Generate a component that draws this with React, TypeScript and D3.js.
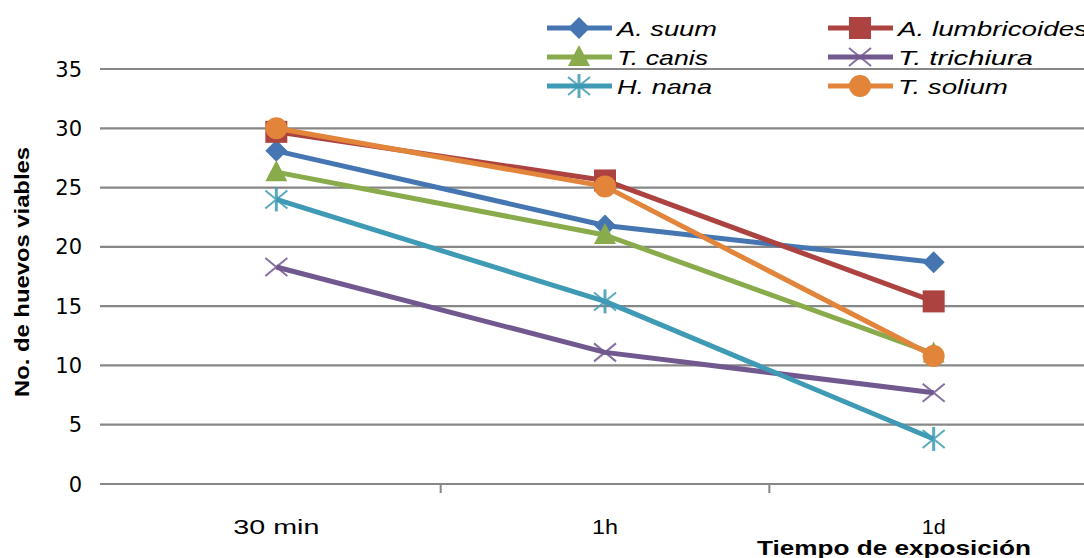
import React from "react";
import * as d3 from "d3";

const categories = ["30 min", "1h", "1d"];
const yTicks = [0, 5, 10, 15, 20, 25, 30, 35];
const seriesNames = ["A. suum", "A. lumbricoides", "T. canis", "T. trichiura", "H. nana", "T. solium"];
const aSuum = [28.1, 21.8, 18.7];
const aLumbricoides = [29.7, 25.6, 15.4];
const tCanis = [26.3, 21.0, 11.0];
const tTrichiura = [18.3, 11.1, 7.7];
const hNana = [24.0, 15.4, 3.8];
const tSolium = [30.0, 25.1, 10.8];
const seriesValues = [aSuum, aLumbricoides, tCanis, tTrichiura, hNana, tSolium];
const colors = ["#4676b1", "#ad4341", "#8aab4c", "#71588f", "#3f9bb5", "#e2843a"];
const markers = ["diamond", "square", "triangle", "x", "star", "circle"];

const W = 1084, H = 558;
const plotLeft = 112, plotRight = 1098, yTop = 69, yBottom = 484;

function Marker({ type, x, y, color }: { type: string; x: number; y: number; color: string }) {
  if (type === "diamond") {
    const s = 11;
    return <path d={`M${x},${y - s}L${x + s},${y}L${x},${y + s}L${x - s},${y}Z`} fill={color} />;
  }
  if (type === "square") {
    return <rect x={x - 11} y={y - 11} width={22} height={22} fill={color} />;
  }
  if (type === "triangle") {
    return <path d={`M${x},${y - 12}L${x + 11},${y + 9}L${x - 11},${y + 9}Z`} fill={color} />;
  }
  if (type === "circle") {
    return <circle cx={x} cy={y} r={11} fill={color} />;
  }
  if (type === "x") {
    return (
      <g stroke={color} strokeWidth={2} opacity={0.85}>
        <line x1={x - 11} y1={y - 9} x2={x + 11} y2={y + 9} />
        <line x1={x - 11} y1={y + 9} x2={x + 11} y2={y - 9} />
      </g>
    );
  }
  return (
    <g stroke={color} strokeWidth={2} opacity={0.85}>
      <line x1={x - 11} y1={y - 9} x2={x + 11} y2={y + 9} />
      <line x1={x - 11} y1={y + 9} x2={x + 11} y2={y - 9} />
      <line x1={x} y1={y - 12} x2={x} y2={y + 12} strokeWidth={3} />
    </g>
  );
}

export default function App() {
  const x = d3.scaleBand().domain(categories).range([plotLeft, plotRight]);
  const y = d3.scaleLinear().domain([0, 35]).range([yBottom, yTop]);
  const cx = (c: string) => (x(c) as number) + x.bandwidth() / 2;
  const line = d3
    .line<number>()
    .x((_, i) => cx(categories[i]))
    .y((v) => y(v));

  const legendRows = [28, 57, 86];
  const legendCols = [547, 828];
  const legendTextLen = [100, 190, 91, 135, 95, 110];
  const catTextLen = [86, 26, 24];

  return (
    <svg width={W} height={H} style={{ position: "absolute", left: 0, top: 0 }} fontFamily="'Liberation Sans', Arial, sans-serif">
      <rect width={W} height={H} fill="#fff" />
      {yTicks.map((t) => (
        <line key={t} x1={100} x2={W} y1={y(t)} y2={y(t)} stroke="#878787" strokeWidth={2.2} />
      ))}
      {categories.slice(1).map((c) => (
        <line key={c} x1={x(c) as number} x2={x(c) as number} y1={yBottom} y2={yBottom + 9} stroke="#878787" strokeWidth={2} />
      ))}
      {yTicks.map((t) => (
        <text key={t} x={82} y={y(t) + 7.5} textAnchor="end" fontSize={21} fontFamily="'DejaVu Sans', sans-serif" fill="#000">
          {t}
        </text>
      ))}
      {categories.map((c, i) => (
        <text
          key={c}
          x={cx(c)}
          y={534}
          textAnchor="middle"
          fontSize={21}
          fill="#000"
          textLength={catTextLen[i]}
          lengthAdjust="spacingAndGlyphs"
        >
          {c}
        </text>
      ))}
      <text x={894} y={555} textAnchor="middle" fontSize={20} fontWeight="bold" textLength={274} lengthAdjust="spacingAndGlyphs">
        Tiempo de exposición
      </text>
      <text
        transform={`translate(29,272) rotate(-90)`}
        textAnchor="middle"
        fontSize={21}
        fontWeight="bold"
        textLength={250}
        lengthAdjust="spacingAndGlyphs"
      >
        No. de huevos viables
      </text>
      {seriesValues.map((vals, si) => (
        <g key={seriesNames[si]}>
          <path d={line(vals) || ""} fill="none" stroke={colors[si]} strokeWidth={5} strokeLinejoin="round" />
          {vals.map((v, i) => (
            <Marker key={i} type={markers[si]} x={cx(categories[i])} y={y(v)} color={colors[si]} />
          ))}
        </g>
      ))}
      {seriesNames.map((name, si) => {
        const col = si % 2;
        const row = Math.floor(si / 2);
        const lx = legendCols[col];
        const ly = legendRows[row];
        return (
          <g key={name}>
            <line x1={lx} x2={lx + 65} y1={ly} y2={ly} stroke={colors[si]} strokeWidth={5} />
            <Marker type={markers[si]} x={lx + 32} y={ly} color={colors[si]} />
            <text
              x={lx + 70}
              y={ly + 7.5}
              fontSize={21}
              fontStyle="italic"
              fill="#000"
              textLength={legendTextLen[si]}
              lengthAdjust="spacingAndGlyphs"
            >
              {name}
            </text>
          </g>
        );
      })}
    </svg>
  );
}
